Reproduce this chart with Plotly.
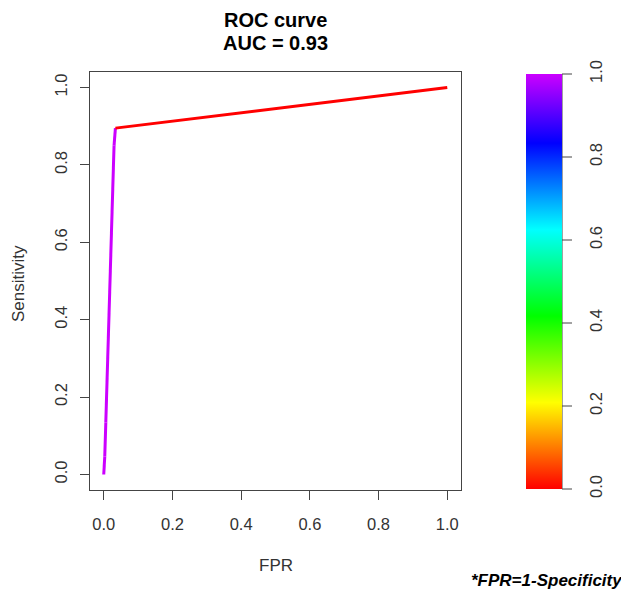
import plotly.graph_objects as go
from plotly.colors import sample_colorscale

# ROC points (FPR, TPR) with the cutoff used for colouring
fpr = [0.0, 0.003, 0.006, 0.030, 0.034, 1.0]
tpr = [0.0, 0.047, 0.134, 0.850, 0.895, 1.0]
cutoff = [1.0, 1.0, 1.0, 1.0, 0.0, 0.0]
auc = 0.93

tick_vals = [0.0, 0.2, 0.4, 0.6, 0.8, 1.0]
tick_text = ["0.0", "0.2", "0.4", "0.6", "0.8", "1.0"]

# the page body has an 8px margin, so the figure is drawn 8px in
OFF = 8
W, H = 629 - OFF, 592 - OFF
FONT = "Liberation Sans, Arial, sans-serif"
AXIS_COL = "#444444"
TEXT_COL = "#333333"
TICK_SIZE = 16.5
LABEL_SIZE = 17


def px(x):
    return (x - OFF) / W


def py(y):
    return 1 - (y - OFF) / H


# rainbow palette: red -> yellow -> green -> cyan -> blue -> purple
rainbow = [
    [0.0, "#ff0000"],
    [0.2083, "#ffff00"],
    [0.4167, "#00ff00"],
    [0.625, "#00ffff"],
    [0.8333, "#0000ff"],
    [1.0, "#cc00ff"],
]

# plot box and colorbar, in page pixels
bx0, bx1, by0, by1 = 90, 461, 72, 490
cx0, cx1, cy0, cy1 = 526, 562, 74, 489

fig = go.Figure()

# one trace per segment, coloured by the cutoff at its start
for i in range(len(fpr) - 1):
    col = sample_colorscale(rainbow, [cutoff[i]])[0]
    fig.add_trace(go.Scatter(
        x=fpr[i:i + 2], y=tpr[i:i + 2], mode="lines",
        line={"color": col, "width": 3},
        showlegend=False, hoverinfo="skip",
    ))

# invisible markers just to carry the colorbar
fig.add_trace(go.Scatter(
    x=fpr, y=tpr, mode="markers",
    marker={
        "size": 0.1, "color": cutoff, "colorscale": rainbow,
        "cmin": 0, "cmax": 1, "showscale": True,
        "colorbar": {
            "x": px(cx0), "xanchor": "left",
            "y": py(cy0), "yanchor": "top",
            "thickness": cx1 - cx0, "thicknessmode": "pixels",
            "len": (cy1 - cy0) / H, "lenmode": "fraction",
            "xpad": 0, "ypad": 0, "outlinewidth": 0,
            "tickvals": tick_vals, "ticktext": tick_text,
            # long transparent ticks push the labels out; visible ticks are shapes
            "ticks": "outside", "ticklen": 21, "tickcolor": "rgba(0,0,0,0)",
            "tickangle": -90,
            "tickfont": {"family": FONT, "size": TICK_SIZE, "color": TEXT_COL},
        },
    },
    showlegend=False, hoverinfo="skip",
))

axis_common = dict(
    range=[-0.04, 1.04], tickvals=tick_vals, ticktext=tick_text,
    ticks="outside", ticklen=9, tickcolor=AXIS_COL, tickwidth=1,
    showline=True, linecolor=AXIS_COL, linewidth=1, mirror=True,
    showgrid=False, zeroline=False, automargin=False,
    tickfont={"family": FONT, "size": TICK_SIZE, "color": TEXT_COL},
)

# colorbar axis line and tick marks
shapes = [dict(type="line", xref="paper", yref="paper",
               x0=px(cx1), x1=px(cx1), y0=py(cy1), y1=py(cy0),
               line={"color": AXIS_COL, "width": 1})]
for v in tick_vals:
    yv = py(cy1 - v * (cy1 - cy0))
    shapes.append(dict(type="line", xref="paper", yref="paper",
                       x0=px(cx1), x1=px(cx1 + 10), y0=yv, y1=yv,
                       line={"color": AXIS_COL, "width": 1}))

mid_x = px((bx0 + bx1) / 2)
fig.update_layout(
    width=W, height=H,
    margin={"l": 0, "r": 0, "t": 0, "b": 0},
    paper_bgcolor="white", plot_bgcolor="white",
    font={"family": FONT},
    xaxis={**axis_common, "domain": [px(bx0), px(bx1)], "ticklabelstandoff": 10},
    yaxis={**axis_common, "domain": [py(by1), py(by0)],
           "tickangle": -90, "ticklabelstandoff": 6},
    annotations=[
        dict(text="<b>ROC curve</b>", x=mid_x, y=py(20),
             font={"size": 20, "color": "black"}),
        dict(text=f"<b>AUC = {auc:.2f}</b>", x=mid_x, y=py(43),
             font={"size": 20, "color": "black"}),
        dict(text="FPR", x=mid_x, y=py(565),
             font={"size": LABEL_SIZE, "color": TEXT_COL}),
        dict(text="Sensitivity", x=px(18), y=py(284), textangle=-90,
             font={"size": LABEL_SIZE, "color": TEXT_COL}),
        dict(text="<b><i>*FPR=1-Specificity</i></b>", x=px(625), y=py(580),
             xanchor="right", font={"size": LABEL_SIZE, "color": "black"}),
    ],
    shapes=shapes,
)
for a in fig.layout.annotations:
    a.xref = "paper"
    a.yref = "paper"
    a.showarrow = False
    a.yanchor = "middle"
    if a.xanchor is None:
        a.xanchor = "center"

fig.write_html("out.html")
